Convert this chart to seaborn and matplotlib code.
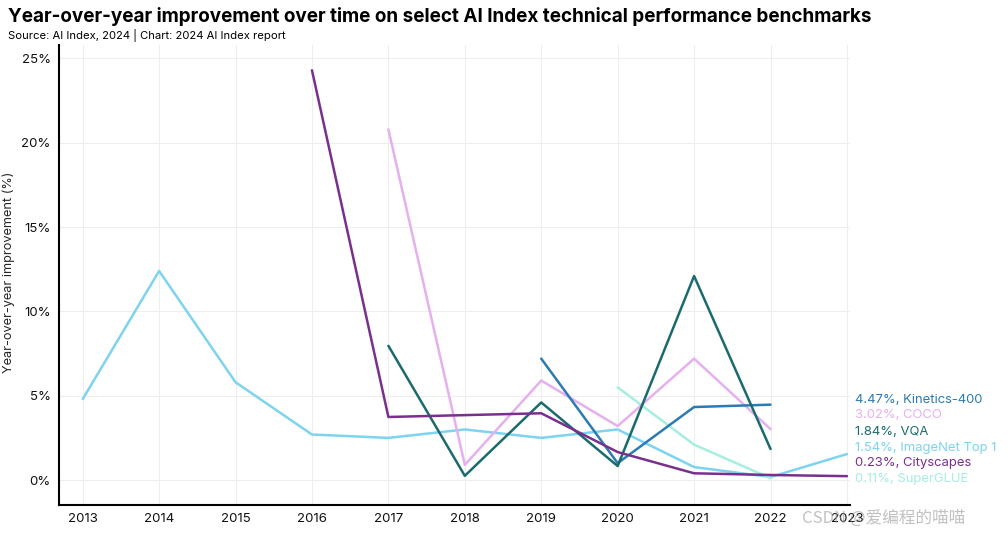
import numpy as np
import pandas as pd
import matplotlib
matplotlib.use("Agg")
import matplotlib.pyplot as plt
import seaborn as sns

years_imagenet = [2013, 2014, 2015, 2016, 2017, 2018, 2019, 2020, 2021, 2022, 2023]
imagenet = [4.8, 12.4, 5.8, 2.7, 2.5, 3.0, 2.5, 3.0, 0.77, 0.18, 1.54]

years_cityscapes = [2016, 2017, 2018, 2019, 2020, 2021, 2022, 2023]
cityscapes = [24.3, 3.74, 3.85, 3.96, 1.66, 0.4, 0.3, 0.23]

years_coco = [2017, 2018, 2019, 2020, 2021, 2022]
coco = [20.8, 0.9, 5.9, 3.2, 7.2, 3.02]

years_vqa = [2017, 2018, 2019, 2020, 2021, 2022]
vqa = [7.96, 0.25, 4.6, 0.83, 12.1, 1.84]

years_kinetics = [2019, 2020, 2021, 2022]
kinetics = [7.2, 1.0, 4.33, 4.47]

years_superglue = [2020, 2021, 2022]
superglue = [5.5, 2.1, 0.11]

series_names = ["Kinetics-400", "COCO", "VQA", "ImageNet Top 1", "Cityscapes", "SuperGLUE"]
colors = {"Kinetics-400": "#2b7bb4", "COCO": "#e6b0f0", "VQA": "#1b6b6e",
          "ImageNet Top 1": "#7dd3f0", "Cityscapes": "#7a2f8f", "SuperGLUE": "#a6eedf"}
last_values = {"Kinetics-400": kinetics[-1], "COCO": coco[-1], "VQA": vqa[-1],
               "ImageNet Top 1": imagenet[-1], "Cityscapes": cityscapes[-1], "SuperGLUE": superglue[-1]}

frames = []
for name, yrs, vals in [("ImageNet Top 1", years_imagenet, imagenet),
                        ("Cityscapes", years_cityscapes, cityscapes),
                        ("COCO", years_coco, coco),
                        ("VQA", years_vqa, vqa),
                        ("Kinetics-400", years_kinetics, kinetics),
                        ("SuperGLUE", years_superglue, superglue)]:
    frames.append(pd.DataFrame({"year": yrs, "value": vals, "benchmark": name}))
df = pd.concat(frames, ignore_index=True)

sns.set_theme(style="white")
plt.rcParams['font.family'] = ['Inter', 'DejaVu Sans']

fig = plt.figure(figsize=(10.08, 5.36), dpi=100)
ax = fig.add_axes([59/1008, 1-505/536, (850-59)/1008, (505-45)/536])

sns.lineplot(data=df, x="year", y="value", hue="benchmark", palette=colors,
             linewidth=1.8, ax=ax, legend=False,
             hue_order=["ImageNet Top 1", "SuperGLUE", "COCO", "Kinetics-400", "VQA", "Cityscapes"])

ax.set_xlim(2012.69, 2023.04)
ax.set_ylim(-1.48, 25.8)
ax.set_xticks(range(2013, 2024))
ax.set_xticklabels([str(y) for y in range(2013, 2024)], fontsize=9.5)
ax.set_yticks([0, 5, 10, 15, 20, 25])
ax.set_yticklabels([f"{v}%" for v in [0, 5, 10, 15, 20, 25]], fontsize=9.5)
ax.tick_params(axis="both", length=0, pad=6, colors="#111111")
ax.grid(True, color="#eeeeee", linewidth=0.8)
ax.set_axisbelow(True)
for s in ["top", "right"]:
    ax.spines[s].set_visible(False)
for s in ["left", "bottom"]:
    ax.spines[s].set_color("black")
    ax.spines[s].set_linewidth(1.5)
ax.set_xlabel("")
ax.set_ylabel("Year-over-year improvement (%)", fontsize=9.2)
ax.yaxis.set_label_coords((15-59)/791, (505-272)/460)

label_y = {"Kinetics-400": 400, "COCO": 415, "VQA": 432, "ImageNet Top 1": 448,
           "Cityscapes": 463, "SuperGLUE": 479}
for name in series_names:
    fig.text(855/1008, 1-label_y[name]/536, f"{last_values[name]:.2f}%, {name}",
             color=colors[name], fontsize=9.4, va="center", ha="left")

fig.text(8/1008, 1-17/536, "Year-over-year improvement over time on select AI Index technical performance benchmarks",
         fontsize=13.6, fontweight="bold", va="center", ha="left", color="black")
fig.text(8/1008, 1-35/536, "Source: AI Index, 2024 | Chart: 2024 AI Index report",
         fontsize=8.1, va="center", ha="left", color="black")

fig.text(802/1008, 1-518/536, "CSDN @爱编程的喵喵", fontsize=12,
         family=['Noto Sans CJK SC', 'DejaVu Sans'], color="#999999", alpha=0.6,
         va="center", ha="left")

fig.savefig("out.png", dpi=100)
